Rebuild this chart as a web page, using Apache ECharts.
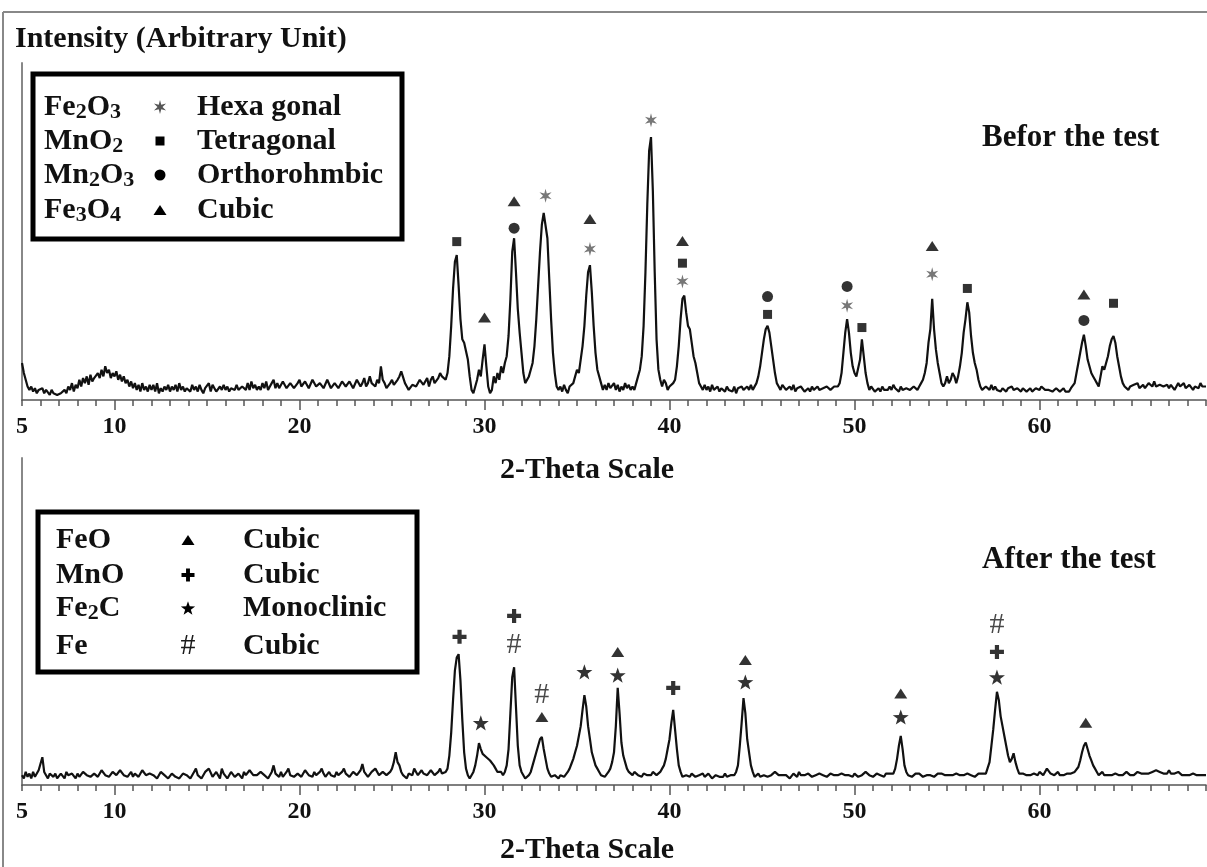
<!DOCTYPE html>
<html><head><meta charset="utf-8">
<script src="https://cdn.jsdelivr.net/npm/echarts@6/dist/echarts.min.js"></script>
<style>html,body{margin:0;padding:0;background:#fff}#c{width:1207px;height:867px}</style>
</head><body><div id="c"></div><script>
// ---------------- DATA ----------------
// XRD scans: start angle 5 deg, step 0.1 deg (one row per degree)
const scanStart = 5;
const scanStep = 0.1;
const beforeIntensity = [
 11, 8, 6, 4, 3, 4, 2.5, 3.5, 2, 3,                 // 5
 2.5, 3.5, 2, 3, 2.5, 1.5, 3, 2, 2.5, 1.5,          // 6
 1, 2, 1.5, 3, 2, 4, 3, 5, 2.5, 4.5,                // 7
 3.5, 6, 4, 6.5, 5, 7, 4.5, 7.5, 5.5, 6.5,          // 8
 6, 8, 6.5, 9, 7, 10, 8, 9, 6.5, 8,                 // 9
 7, 8.5, 6, 7.5, 5.5, 7, 5, 6, 4, 5.5,              // 10
 3.5, 5, 3, 4.5, 2.5, 5, 3, 4, 2.5, 4.5,            // 11
 3, 4.5, 2.5, 5, 2, 3.5, 2.5, 4, 3, 4.5,            // 12
 2.5, 4, 3, 4.5, 2.5, 5, 3, 4, 2.5, 3.5,            // 13
 4, 2.5, 4.5, 3, 4, 2.5, 4.5, 3, 2, 3.5,            // 14
 3, 5, 2.5, 4.5, 3.5, 2.5, 2, 4, 3, 4.5,            // 15
 3, 4, 2.5, 3.5, 4, 3, 4.5, 3, 2.5, 4,              // 16
 4, 3, 5, 3, 5.5, 3.5, 4.5, 3, 4, 3,                // 17
 5, 3.5, 5.5, 3, 4, 5, 6, 3.5, 5, 3.5,              // 18
 4, 5.5, 6, 3.5, 3, 5, 5.5, 3.5, 4, 5,              // 19
 6, 4, 3.5, 5.5, 5, 3.5, 4, 6, 6, 4,                // 20
 3.5, 5, 5, 3.5, 4, 6, 6, 3.5, 4, 5,                // 21
 5, 3.5, 3.5, 5.5, 6, 4, 4, 5.5, 5, 3.5,            // 22
 4, 6, 6, 4, 5, 6.5, 4, 5, 7, 5,                    // 23
 5, 4, 6, 5, 10, 6, 5, 3.5, 3, 5,                   // 24
 6, 4.5, 4, 6, 7, 8.5, 8, 5, 4, 3,                  // 25
 3, 4.5, 5, 4, 4, 6, 6, 4.5, 5, 6.5,                // 26
 4, 6, 7, 5, 5, 6.5, 8, 7, 7, 6,                    // 27
 8, 13, 22, 33, 41, 43, 34, 24, 18, 17,             // 28
 17, 12, 7, 3, 2, 4, 6, 9, 7, 12,                   // 29
 16.5, 10, 4, 2, 3, 7, 5, 8, 6, 10,                 // 30
 8, 11, 13, 19, 30, 44, 48, 38, 27, 20,             // 31
 14, 8, 5, 5, 7, 9, 11, 16, 24, 34,                 // 32
 44, 52, 55.5, 56, 48, 36, 24, 14, 8, 4,            // 33
 3, 4, 2.5, 4.5, 3, 2, 4, 3.5, 5, 7,                // 34
 9, 8, 12, 16, 22, 31, 38, 40, 32, 22,              // 35
 14, 9, 7, 5, 3, 4.5, 3, 5, 3.5, 4,                 // 36
 5, 3, 4.5, 2.5, 4, 3, 5, 3.5, 4.5, 3,              // 37
 4, 3, 5, 7, 9, 13, 22, 38, 58, 74,                 // 38
 78, 62, 38, 18, 9, 6, 4, 6, 5, 3,                  // 39
 4, 3.5, 5, 6, 10, 16, 24, 30, 31, 26,              // 40
 22, 21, 17, 13, 11, 8, 5, 4, 3, 4.5,               // 41
 3, 4, 2.5, 4.5, 3, 3.5, 4, 2.5, 3.5, 3,            // 42
 2.5, 4, 3, 3.5, 2.5, 4, 2, 3.5, 3, 4,              // 43
 3, 2.5, 4, 3, 4.5, 3, 3.5, 5, 7, 10,               // 44
 14, 18, 21, 22, 20, 16, 12, 8, 5, 4,               // 45
 3, 4.5, 5, 3, 3.5, 4, 3, 4.5, 2.5, 3.5,            // 46
 3, 4, 4, 2.5, 3, 3.5, 2.5, 4, 3, 3.5,              // 47
 4, 3, 2.5, 3.5, 3, 4, 4, 3, 3, 4,                  // 48
 3.5, 4, 5, 8, 14, 20, 24, 20, 14, 10,              // 49
 8, 7, 7, 12, 18, 13, 8, 5, 3, 4,                   // 50
 4, 2.5, 3, 3.5, 2.5, 4, 3, 3.5, 3, 4,              // 51
 3, 4.5, 3.5, 3, 2.5, 4, 3, 2.5, 3.5, 4,            // 52
 3, 2.5, 4, 3.5, 3, 4, 5, 6, 8, 11,                 // 53
 17, 21, 30, 21, 15, 11, 8, 5, 4, 5,                // 54
 7, 5, 6, 8, 7, 5, 7, 10, 14, 20,                   // 55
 24, 29, 26, 19, 14, 11, 9, 6, 4, 3,                // 56
 3, 4, 3.5, 3, 4.5, 3, 4, 3, 3.5, 2.5,              // 57
 3.5, 3, 2.5, 3.5, 3, 4, 3, 2.5, 3.5, 3,            // 58
 2.5, 3.5, 3, 2.5, 3, 3.5, 2.5, 3, 3.5, 3,          // 59
 3, 4, 3.5, 3, 2.5, 3, 3.5, 2.5, 3, 3.5,            // 60
 3.5, 2.5, 3, 3.5, 2.5, 3, 2.5, 3.5, 4, 5,          // 61
 8, 11, 14, 17, 19.4, 16, 12, 10, 8, 7,             // 62
 6, 5, 4, 7, 10, 9, 11, 13, 16, 18,                 // 63
 19, 17, 13, 10, 7, 5, 4, 3.5, 3, 4,                // 64
 3.5, 4.5, 4, 5, 3.5, 4, 4.5, 3.5, 4, 5,            // 65
 5, 4, 5.5, 4, 3.5, 4.5, 5, 4, 3.5, 4.5,            // 66
 3.5, 4.5, 4, 3, 4, 5, 4, 4.5, 5, 3.5,              // 67
 3.5, 4.5, 5, 3, 4, 4.5, 3.5, 5, 4, 4.5,            // 68
 4                                                  // 69
];
const afterIntensity = [
 3, 2, 4, 2.5, 3.5, 2, 4, 2.5, 3, 4.5,              // 5
 5, 8.5, 4, 3, 2, 3.5, 3, 2.5, 3.5, 2,              // 6
 2, 3.5, 3, 2, 4, 3, 2.5, 3.5, 3, 2,                // 7
 3.5, 2.5, 2, 4, 4.5, 3, 3, 2.5, 2.5, 3.5,          // 8
 3.5, 2.5, 3, 4.5, 4, 3, 3.5, 2.5, 2.5, 4,          // 9
 4.5, 3, 3, 4.5, 5, 3, 3.5, 2.5, 3, 4,              // 10
 2.5, 3.5, 4, 2.5, 3, 4.5, 5, 3, 2.5, 3.5,          // 11
 4, 3, 3, 2, 2.5, 4, 4.5, 3, 3, 2,                  // 12
 2.5, 3.5, 3.5, 2.5, 3, 2, 2, 3.5, 4, 3,            // 13
 3, 2, 2.5, 4, 5, 3, 3, 2, 2.5, 4,                  // 14
 3.5, 5, 4.5, 2.5, 2.5, 4, 3, 2, 5, 3.5,            // 15
 3, 2, 2.5, 4, 4, 2.5, 2.5, 3.5, 3.5, 2,            // 16
 4, 3, 3, 4.5, 5, 3, 2.5, 3, 3, 4,                  // 17
 4.5, 3, 3, 2, 2.5, 4, 6, 3.5, 3, 2.5,              // 18
 4, 2.5, 3, 4, 5, 3, 3.5, 2.5, 2.5, 3.5,            // 19
 4, 2.5, 3, 4.5, 5, 3, 3, 2.5, 4, 3,                // 20
 3, 4, 5, 3.5, 2.5, 3, 4, 3, 3, 2.5,                // 21
 4, 3, 3, 4, 5, 3.5, 3.5, 2.5, 3, 4,                // 22
 4.5, 3, 3, 4.5, 6.4, 4, 3.5, 2.5, 3, 4,            // 23
 4, 5, 5, 3, 3.5, 4, 4.5, 3, 3, 4,                  // 24
 5, 7, 10, 7, 6, 4, 3, 2.5, 2, 3.5,                 // 25
 4, 3, 5, 4, 3, 2.5, 4.5, 3.5, 3.5, 3,              // 26
 3, 4.5, 4.5, 3, 3.5, 4, 5, 3.5, 3, 4,              // 27
 5, 9, 16, 26, 35, 39, 40, 32, 20, 10,              // 28
 5, 3, 2, 3, 4, 6, 9, 12.8, 11, 9.5,                // 29
 9, 8.5, 8.5, 7.5, 7, 6, 5, 4, 3.5, 4,              // 30
 3, 4, 6, 11, 22, 33, 36, 24, 12, 6,                // 31
 4, 3, 2, 1.5, 3, 4, 6, 8, 10, 12,                  // 32
 14, 14.7, 11, 8, 5, 3.5, 2.5, 2, 3, 2.5,           // 33
 2, 3, 3.5, 2.5, 3, 4, 5, 6.5, 8, 10,               // 34
 12, 15, 18, 23, 27.5, 24, 18, 14, 10, 8,           // 35
 6, 5, 4, 3, 3, 2.5, 3, 4, 5, 7,                    // 36
 10, 18, 29.7, 22, 13, 9, 7, 5, 4, 3.5,             // 37
 3, 4, 4.5, 3, 3, 2.5, 3.5, 4, 3, 3,                // 38
 3, 4, 4.5, 3, 3, 4, 5, 6, 8, 11,                   // 39
 14, 19, 23, 17, 11, 6, 4, 2.5, 2.5, 3,             // 40
 3, 2.5, 3.5, 3.5, 2.5, 2, 3, 3, 3.5, 2.5,          // 41
 2.5, 3.5, 3, 2, 2.5, 3, 3.5, 2.5, 3, 2.5,          // 42
 3.5, 2.5, 2, 3, 3.5, 3, 4, 6, 12, 19,              // 43
 26.6, 22, 14, 10, 6, 4, 2.5, 3, 3.5, 2.5,          // 44
 2, 3, 3.5, 2.5, 2.5, 3, 3, 4, 4, 3,                // 45
 2.5, 3, 3.5, 3, 3, 2, 2.5, 3.5, 3, 2.5,            // 46
 4, 3, 2.5, 3, 3, 3.5, 3.5, 2.5, 2.5, 3,            // 47
 3, 3.5, 4, 3, 2.5, 2.5, 3, 3.5, 3.5, 3,            // 48
 2.5, 3, 3, 3.5, 4, 3, 2.5, 3, 3, 2.5,              // 49
 3.5, 3, 2.5, 3, 3, 3.5, 4, 3.5, 3, 2.5,            // 50
 2.5, 3, 3.5, 3, 3, 2.5, 2.5, 3.5, 4, 3.5,          // 51
 3, 3.5, 5, 8, 12, 15, 11, 6, 4, 3,                 // 52
 3, 2.5, 2.5, 3.5, 4, 3.5, 3, 2.5, 2.5, 3,          // 53
 3.5, 3, 3, 2.5, 2.5, 3.5, 4, 3.5, 3, 3,            // 54
 2.5, 3, 3.5, 3, 3, 3.5, 4, 3, 2.5, 3,              // 55
 3, 3.5, 4, 3, 3, 2.5, 2.5, 3.5, 4, 3.5,            // 56
 3, 3.5, 4, 7, 12, 17, 23, 28.5, 26, 21,            // 57
 18, 15, 12, 9, 7, 8, 9.7, 7, 5, 3.5,               // 58
 3, 3.5, 4, 3, 2.5, 3, 3.5, 3.5, 3, 3,              // 59
 4, 3.5, 3, 3.5, 5, 4.5, 3.5, 3, 3, 3.5,            // 60
 4, 3, 2.5, 3, 3.5, 3.5, 3, 3.5, 4, 4,              // 61
 4, 5.5, 7.5, 10, 12, 13, 11, 9, 7.5, 6,            // 62
 5, 4, 3, 3.5, 4, 3, 2.5, 3, 3.5, 3,                // 63
 3, 3.5, 4, 3, 2.5, 3, 3.5, 4, 3.5, 3,              // 64
 3, 3, 3.5, 4, 4.5, 3.5, 3, 3.5, 4, 3.5,            // 65
 3.5, 4, 4, 4.5, 5, 4, 3.5, 3.5, 4, 3.5,            // 66
 4.5, 3.5, 3, 3.5, 4, 4, 3.5, 3, 2.5, 3,            // 67
 3.5, 3, 3, 3.5, 4, 3, 2.5, 3, 3.5, 3,              // 68
 3                                                  // 69
];
// Phase markers [2-theta, height]
const beforeFe2O3 = [[33.3, 60.6], [39.0, 83], [35.7, 44.8], [40.7, 35.2], [49.6, 28], [54.2, 37.3]];
const beforeMnO2  = [[28.5, 47], [40.7, 40.6], [45.3, 25.4], [50.4, 21.5], [56.1, 33.1], [64.0, 28.7]];
const beforeMn2O3 = [[31.6, 51], [45.3, 30.7], [49.6, 33.7], [62.4, 23.6]];
const beforeFe3O4 = [[30.0, 24.5], [31.6, 59], [35.7, 53.7], [40.7, 47.2], [54.2, 45.7], [62.4, 31.3]];
const afterFeO  = [[33.1, 20.8], [37.2, 40.7], [44.1, 38.2], [52.5, 28], [62.5, 19]];
const afterMnO  = [[28.65, 45.3], [31.6, 51.7], [40.2, 29.7], [57.7, 40.7]];
const afterFe2C = [[29.8, 19], [35.4, 34.6], [37.2, 33.6], [44.1, 31.5], [52.5, 20.8], [57.7, 33]];
const afterFe   = [[31.6, 42.8], [33.1, 27.5], [57.7, 49]];
const tickLabels = [5, 10, 20, 30, 40, 50, 60];
const majorTicks = [10, 20, 30, 40, 50, 60];
const beforeLegend = [
  ['Fe', '2', 'O', '3', 'asterisk', 'Hexa gonal'],
  ['MnO', '2', '', '', 'rect', 'Tetragonal'],
  ['Mn', '2', 'O', '3', 'circle', 'Orthorohmbic'],
  ['Fe', '3', 'O', '4', 'triangle', 'Cubic']
];
const afterLegend = [
  ['FeO', '', '', '', 'triangle', 'Cubic'],
  ['MnO', '', '', '', 'cross', 'Cubic'],
  ['Fe', '2', 'C', '', 'star', 'Monoclinic'],
  ['Fe', '', '', '', 'hash', 'Cubic']
];

// ---------------- STYLE ----------------
const SERIF = '"Liberation Serif", "Times New Roman", serif';
const STAR_PTS = [[50,0],[61.76,33.82],[97.55,34.55],[69.02,56.18],[79.39,90.45],[50,70],[20.61,90.45],[30.98,56.18],[2.45,34.55],[38.24,33.82]];
const CROSS_PTS = [[35,0],[65,0],[65,35],[100,35],[100,65],[65,65],[65,100],[35,100],[35,65],[0,65],[0,35],[35,35]];
const AST_PTS = [[50,0],[59,34.41],[93.3,25],[68,50],[93.3,75],[59,65.59],[50,100],[41,65.59],[6.7,75],[32,50],[6.7,25],[41,34.41]];
function toPath(pts) { return 'path://M' + pts.map(q => q[0] + ',' + q[1]).join(' L') + ' Z'; }
const STAR = toPath(STAR_PTS);
const CROSS = toPath(CROSS_PTS);
const AST = toPath(AST_PTS);

function scan(vals) { return vals.map((v, i) => [+(scanStart + i * scanStep).toFixed(2), v]); }

function xAxes(grid) {
  return [{
    type: 'value', gridIndex: grid, min: 5, max: 69, interval: 1, position: 'bottom',
    axisLine: { lineStyle: { color: '#555', width: 1.5 } },
    axisTick: { length: 6, lineStyle: { color: '#555', width: 1.5 } },
    axisLabel: { customValues: tickLabels, margin: 15, fontFamily: SERIF, fontWeight: 'bold', fontSize: 24, color: '#111' },
    splitLine: { show: false }
  }, {
    type: 'value', gridIndex: grid, min: 5, max: 69, position: 'bottom',
    axisLine: { show: false },
    axisTick: { customValues: majorTicks, length: 10, lineStyle: { color: '#555', width: 1.5 } },
    axisLabel: { show: false }, splitLine: { show: false }
  }];
}
function yAxis(grid) {
  return { type: 'value', gridIndex: grid, min: 0, max: 100,
    axisLine: { show: true, lineStyle: { color: '#888', width: 2 } },
    axisTick: { show: false }, axisLabel: { show: false }, splitLine: { show: false } };
}
function marks(data, xi, yi, symbol, size, color) {
  return { type: 'scatter', xAxisIndex: xi, yAxisIndex: yi, data: data, symbol: symbol,
    symbolSize: size, symbolKeepAspect: true, itemStyle: { color: color || '#000' }, z: 5, silent: true };
}
function hashMarks(data, xi, yi) {
  return { type: 'scatter', xAxisIndex: xi, yAxisIndex: yi, data: data, symbol: 'circle', symbolSize: 1,
    itemStyle: { color: 'transparent' }, z: 5, silent: true,
    label: { show: true, position: 'inside', formatter: '#', fontFamily: SERIF, fontSize: 30, color: '#1a1a1a' } };
}
function scalePts(pts, cx, cy, s, oy) {
  return pts.map(p => [cx + (p[0] - 50) / 100 * s, cy + (p[1] - (oy || 50)) / 100 * s]);
}

// legend graphics
function legendSymbol(kind, cx, cy) {
  if (kind === 'triangle') return { type: 'polygon', shape: { points: [[cx, cy - 5], [cx + 6.5, cy + 5], [cx - 6.5, cy + 5]] }, style: { fill: '#000' } };
  if (kind === 'rect') return { type: 'rect', shape: { x: cx - 4.5, y: cy - 4.5, width: 9, height: 9 }, style: { fill: '#000' } };
  if (kind === 'circle') return { type: 'circle', shape: { cx: cx, cy: cy, r: 5.5 }, style: { fill: '#000' } };
  if (kind === 'hash') return { type: 'text', x: cx, y: cy, style: { text: '#', font: '30px ' + SERIF, fill: '#1a1a1a', align: 'center', verticalAlign: 'middle' } };
  if (kind === 'star') return { type: 'polygon', shape: { points: scalePts(STAR_PTS, cx, cy, 15, 45) }, style: { fill: '#000' } };
  if (kind === 'cross') return { type: 'polygon', shape: { points: scalePts(CROSS_PTS, cx, cy, 13) }, style: { fill: '#000' } };
  return { type: 'polygon', shape: { points: scalePts(AST_PTS, cx, cy, 14) }, style: { fill: '#555' } };
}
function legendBox(rows, box, col1, col2, col3, ys) {
  const els = [{ type: 'rect', shape: box, style: { fill: '#fff', stroke: '#000', lineWidth: 5 } }];
  const main = 'bold 30px ' + SERIF, sub = 'bold 22px ' + SERIF;
  rows.forEach((r, i) => {
    let t = '{m|' + r[0] + '}';
    if (r[1]) t += '{s|' + r[1] + '}';
    if (r[2]) t += '{m|' + r[2] + '}';
    if (r[3]) t += '{s|' + r[3] + '}';
    els.push({ type: 'text', x: col1, y: ys[i], style: { text: t, align: 'left', verticalAlign: 'middle',
      rich: { m: { font: main, fill: '#111', lineHeight: 32 }, s: { font: sub, fill: '#111', lineHeight: 22, verticalAlign: 'bottom' } } } });
    els.push(legendSymbol(r[4], col2, ys[i]));
    els.push({ type: 'text', x: col3, y: ys[i], style: { text: r[5], font: main, fill: '#111', align: 'left', verticalAlign: 'middle' } });
  });
  return { type: 'group', z: 20, children: els };
}
function label(text, x, y, align, size) {
  return { type: 'text', x: x, y: y, z: 20, style: { text: text, font: 'bold ' + size + 'px ' + SERIF, fill: '#111', align: align, verticalAlign: 'middle' } };
}

const chart = echarts.init(document.getElementById('c'), null, { renderer: 'canvas' });
chart.setOption({
  animation: false,
  backgroundColor: '#fff',
  grid: [
    { left: 22, right: 1, top: 63, bottom: 467 },
    { left: 22, right: 1, top: 458, bottom: 82 }
  ],
  xAxis: [].concat(xAxes(0), xAxes(1)),
  yAxis: [yAxis(0), yAxis(1)],
  series: [
    { type: 'line', xAxisIndex: 0, yAxisIndex: 0, data: scan(beforeIntensity), showSymbol: false, silent: true,
      lineStyle: { color: '#111', width: 2.2 } },
    { type: 'line', xAxisIndex: 2, yAxisIndex: 1, data: scan(afterIntensity), showSymbol: false, silent: true,
      lineStyle: { color: '#111', width: 2.2 } },
    marks(beforeFe2O3, 0, 0, AST, 14, '#555'),
    marks(beforeMnO2, 0, 0, 'rect', [9, 9]),
    marks(beforeMn2O3, 0, 0, 'circle', 11),
    marks(beforeFe3O4, 0, 0, 'triangle', [13, 10]),
    marks(afterFeO, 2, 1, 'triangle', [13, 10]),
    marks(afterMnO, 2, 1, CROSS, 14),
    marks(afterFe2C, 2, 1, STAR, 16),
    hashMarks(afterFe, 2, 1)
  ],
  graphic: [
    { type: 'line', shape: { x1: 3, y1: 12, x2: 1207, y2: 12 }, style: { stroke: '#888', lineWidth: 2 } },
    { type: 'line', shape: { x1: 3, y1: 12, x2: 3, y2: 867 }, style: { stroke: '#888', lineWidth: 2 } },
    label('Intensity (Arbitrary Unit)', 15, 39, 'left', 30),
    legendBox(beforeLegend, { x: 33, y: 74, width: 369, height: 165 }, 44, 160, 197, [107, 141, 175, 210]),
    legendBox(afterLegend, { x: 38, y: 512, width: 379, height: 160 }, 56, 188, 243, [540, 575, 608, 646]),
    label('Befor the test', 982, 138, 'left', 31),
    label('After the test', 982, 560, 'left', 31),
    label('2-Theta Scale', 587, 470, 'center', 30),
    label('2-Theta Scale', 587, 850, 'center', 30)
  ]
});
</script></body></html>
